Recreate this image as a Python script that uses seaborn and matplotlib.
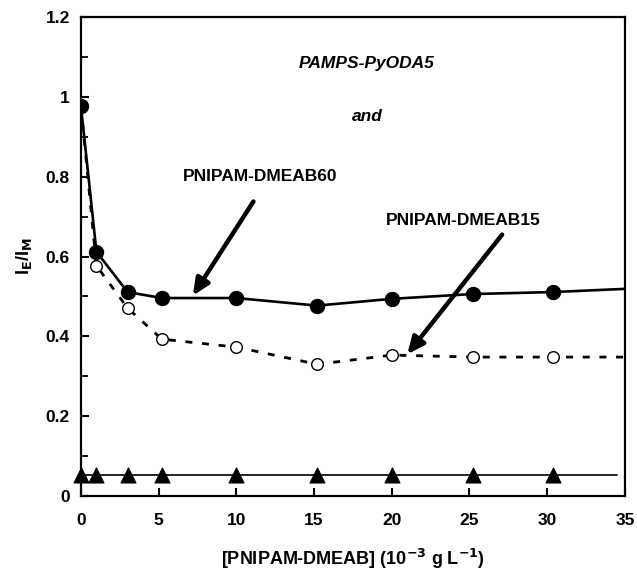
import matplotlib
matplotlib.use('Agg')
import matplotlib.pyplot as plt
import seaborn as sns
import numpy as np
import pandas as pd
from matplotlib.ticker import MultipleLocator

# concentrations, 10^-3 g/L
conc = [0, 1, 3, 5.2, 10, 15.2, 20, 25.2, 30.4]
dmeab60 = [0.978, 0.612, 0.511, 0.496, 0.496, 0.477, 0.494, 0.506, 0.511]

conc15 = [1, 3, 5.2, 10, 15.2, 20, 25.2, 30.4]
dmeab15 = [0.577, 0.471, 0.393, 0.373, 0.330, 0.353, 0.348, 0.348]

pyoda_only = [0.053, 0.053, 0.053, 0.053, 0.053, 0.053, 0.053, 0.053, 0.053]

# guide curves as drawn in the figure
curve60_x = [0, 1, 3, 5.2, 10, 15.2, 20, 25.2, 30.4, 35]
curve60_y = [0.978, 0.612, 0.511, 0.496, 0.496, 0.477, 0.494, 0.506, 0.511, 0.519]
curve15_x = [0, 1, 3, 5.2, 10, 15.2, 20, 25.2, 30.4, 35]
curve15_y = [0.978, 0.577, 0.471, 0.393, 0.373, 0.330, 0.353, 0.348, 0.348, 0.348]
base_x = [0, 34.5]
base_y = [0.053, 0.053]

sns.set_style('ticks')
plt.rcParams['font.family'] = ['Liberation Sans', 'DejaVu Sans']
plt.rcParams['font.weight'] = 'bold'
for key in ['text.color', 'axes.labelcolor', 'xtick.color', 'ytick.color',
            'axes.edgecolor']:
    plt.rcParams[key] = 'black'
plt.rcParams['mathtext.default'] = 'bf'

fig = plt.figure(figsize=(6.37, 5.72), dpi=100)
ax = fig.add_axes([0.127, 0.133, 0.854, 0.837])

sns.lineplot(x=curve60_x, y=curve60_y, ax=ax, color='black', lw=1.9, sort=False)
sns.lineplot(x=curve15_x, y=curve15_y, ax=ax, color='black', lw=2.0, sort=False)
ax.lines[-1].set_linestyle((0, (2.5, 3.5)))
sns.lineplot(x=base_x, y=base_y, ax=ax, color='black', lw=1.2)

sns.scatterplot(x=conc, y=dmeab60, ax=ax, color='black', s=105, marker='o',
                edgecolor='black', zorder=5)
sns.scatterplot(x=conc15, y=dmeab15, ax=ax, color='white', s=70, marker='o',
                edgecolor='black', linewidth=1.0, zorder=5)
sns.scatterplot(x=conc, y=pyoda_only, ax=ax, color='black', s=115, marker='^',
                edgecolor='black', zorder=5, clip_on=False)

ax.set_xlim(0, 35)
ax.set_ylim(0, 1.2)
ax.xaxis.set_major_locator(MultipleLocator(5))
ax.yaxis.set_minor_locator(MultipleLocator(0.1))
ax.set_yticks([0, 0.2, 0.4, 0.6, 0.8, 1.0, 1.2])
ax.set_yticklabels(['0', '0.2', '0.4', '0.6', '0.8', '1', '1.2'])
ax.tick_params(direction='in', length=6, width=1.5, labelsize=12.5, pad=8)
ax.tick_params(which='minor', direction='in', length=5, width=1.3)
ax.tick_params(axis='x', pad=12)
for sp in ax.spines.values():
    sp.set_linewidth(1.6)
    sp.set_visible(True)
for lab in ax.get_xticklabels() + ax.get_yticklabels():
    lab.set_fontweight('bold')

ax.set_xlabel(r'[PNIPAM-DMEAB] (10$^{\mathsf{-3}}$ g L$^{\mathsf{-1}}$)',
              fontsize=13, fontweight='bold', labelpad=14)
ax.set_ylabel(r'I$_{\mathsf{E}}$/I$_{\mathsf{M}}$', fontsize=13,
              fontweight='bold', labelpad=8)

ax.text(18.4, 1.085, 'PAMPS-PyODA5', fontsize=12.5, fontweight='bold',
        fontstyle='italic', ha='center', va='center')
ax.text(18.4, 0.95, 'and', fontsize=12.5, fontweight='bold',
        fontstyle='italic', ha='center', va='center')
ax.text(11.5, 0.80, 'PNIPAM-DMEAB60', fontsize=12.5, fontweight='bold',
        ha='center', va='center')
ax.text(24.6, 0.69, 'PNIPAM-DMEAB15', fontsize=12.5, fontweight='bold',
        ha='center', va='center')

arrow = dict(arrowstyle='-|>,head_length=1.0,head_width=0.45', color='black',
             lw=3.2, shrinkA=0, shrinkB=0)
ax.annotate('', xy=(7.2, 0.502), xytext=(11.1, 0.738), arrowprops=arrow)
ax.annotate('', xy=(21.0, 0.355), xytext=(27.1, 0.655), arrowprops=arrow)

fig.savefig('out.png', dpi=100)
